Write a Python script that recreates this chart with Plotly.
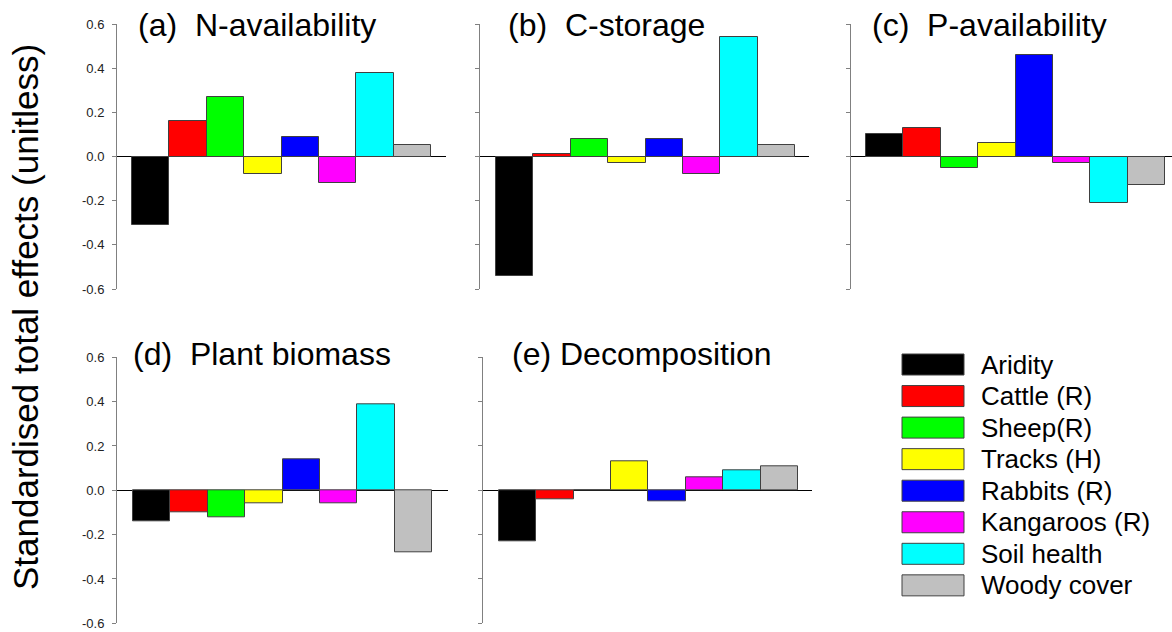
import plotly.graph_objects as go

# ---------------- data ----------------
labels = ["Aridity", "Cattle (R)", "Sheep(R)", "Tracks (H)", "Rabbits (R)",
          "Kangaroos (R)", "Soil health", "Woody cover"]
colors = ["#000000", "#FF0000", "#00FF00", "#FFFF00", "#0000FF",
          "#FF00FF", "#00FFFF", "#C0C0C0"]

n_availability = [-0.31, 0.16, 0.27, -0.08, 0.09, -0.12, 0.38, 0.05]
c_storage = [-0.54, 0.01, 0.08, -0.03, 0.08, -0.08, 0.54, 0.05]
p_availability = [0.10, 0.13, -0.05, 0.06, 0.46, -0.03, -0.21, -0.13]
plant_biomass = [-0.14, -0.10, -0.12, -0.06, 0.14, -0.06, 0.39, -0.28]
decomposition = [-0.23, -0.04, 0.0, 0.13, -0.05, 0.06, 0.09, 0.11]

panel_titles = ["(a)\u00a0 N-availability", "(b)\u00a0 C-storage",
                "(c)\u00a0 P-availability", "(d)\u00a0 Plant biomass",
                "(e) Decomposition"]
panel_values = [n_availability, c_storage, p_availability, plant_biomass, decomposition]

tick_vals = [-0.6, -0.4, -0.2, 0.0, 0.2, 0.4, 0.6]
tick_text = ["-0.6", "-0.4", "-0.2", "0.0", "0.2", "0.4", "0.6"]
y_title = "Standardised total effects (unitless)"

# ---------------- layout constants (pixels) ----------------
W, H = 1172, 632
PX_PER_BAR = 37.4
# (axis x, right edge x, first bar left x, top px, bottom px, title x, title y, show labels)
panels = [
    (117, 446, 132.0, 24.0, 289.0, 136, 25, True),
    (480, 809, 496.0, 24.0, 289.0, 506, 25, False),
    (851, 1172, 866.0, 24.0, 289.0, 870, 25, False),
    (117, 448, 133.0, 357.3, 623.3, 131, 354, True),
    (483, 812, 498.7, 357.3, 623.3, 510, 354, False),
]

FONT = "Liberation Sans, Arial, sans-serif"

fig = go.Figure()
layout_axes = {}
annotations = []

for i, (vals, p) in enumerate(zip(panel_values, panels)):
    ax_x, right_x, bar0_x, top_y, bot_y, tx, ty, show_lbl = p
    n = i + 1
    xa = "x" if n == 1 else f"x{n}"
    ya = "y" if n == 1 else f"y{n}"
    fig.add_trace(go.Bar(
        x=list(range(len(vals))), y=vals, width=1.0,
        marker=dict(color=colors, line=dict(color="#404040", width=1)),
        xaxis=xa, yaxis=ya, showlegend=False,
        hovertext=labels, hoverinfo="text+y",
    ))
    x_start = -0.5 - (bar0_x - ax_x) / PX_PER_BAR
    x_end = x_start + (right_x - ax_x) / PX_PER_BAR
    key_x = "xaxis" if n == 1 else f"xaxis{n}"
    key_y = "yaxis" if n == 1 else f"yaxis{n}"
    layout_axes[key_x] = dict(
        domain=[ax_x / W, right_x / W], range=[x_start, x_end],
        showticklabels=False, showline=False, showgrid=False, zeroline=False,
        ticks="", anchor=ya, fixedrange=True, automargin=False,
    )
    layout_axes[key_y] = dict(
        domain=[1 - bot_y / H, 1 - top_y / H], range=[-0.6, 0.6],
        tickvals=tick_vals, ticktext=tick_text if show_lbl else [""] * len(tick_vals),
        showticklabels=show_lbl,
        ticks="outside", ticklen=4, tickwidth=1, tickcolor="#808080",
        showline=True, linecolor="#808080", linewidth=1,
        showgrid=False, zeroline=True, zerolinecolor="#000000", zerolinewidth=1,
        tickfont=dict(family=FONT, size=13, color="#222222"),
        ticklabelstandoff=5,
        anchor=xa, fixedrange=True, automargin=False,
    )
    annotations.append(dict(
        x=tx / W, y=1 - ty / H, xref="paper", yref="paper",
        xanchor="left", yanchor="middle", showarrow=False,
        text=panel_titles[i], font=dict(family=FONT, size=32, color="#000000"),
    ))

# y axis title
annotations.append(dict(
    x=25 / W, y=1 - 317 / H, xref="paper", yref="paper",
    xanchor="center", yanchor="middle", showarrow=False, textangle=-90,
    text=y_title, font=dict(family=FONT, size=35, color="#000000"),
))

# custom legend
shapes = []
LEG_X0, LEG_X1 = 902, 964
LEG_Y0, LEG_H, LEG_PITCH = 354.0, 21.0, 31.55
LEG_TX = 979
for k, (lab, col) in enumerate(zip(labels, colors)):
    y0 = LEG_Y0 + k * LEG_PITCH
    shapes.append(dict(
        type="rect", xref="paper", yref="paper",
        x0=LEG_X0 / W, x1=LEG_X1 / W, y0=1 - (y0 + LEG_H) / H, y1=1 - y0 / H,
        fillcolor=col, line=dict(color="#404040", width=1),
    ))
    annotations.append(dict(
        x=LEG_TX / W, y=1 - (y0 + LEG_H / 2) / H, xref="paper", yref="paper",
        xanchor="left", yanchor="middle", showarrow=False,
        text=lab, font=dict(family=FONT, size=26, color="#000000"),
    ))

fig.update_layout(
    width=W, height=H, autosize=False,
    margin=dict(l=0, r=0, t=0, b=0, autoexpand=False),
    paper_bgcolor="white", plot_bgcolor="white",
    bargap=0, showlegend=False,
    annotations=annotations, shapes=shapes,
    **layout_axes,
)

fig.write_html(
    "out.html",
    config={"displayModeBar": False},
    post_script="document.body.style.margin='0';document.body.style.overflow='hidden';",
)
